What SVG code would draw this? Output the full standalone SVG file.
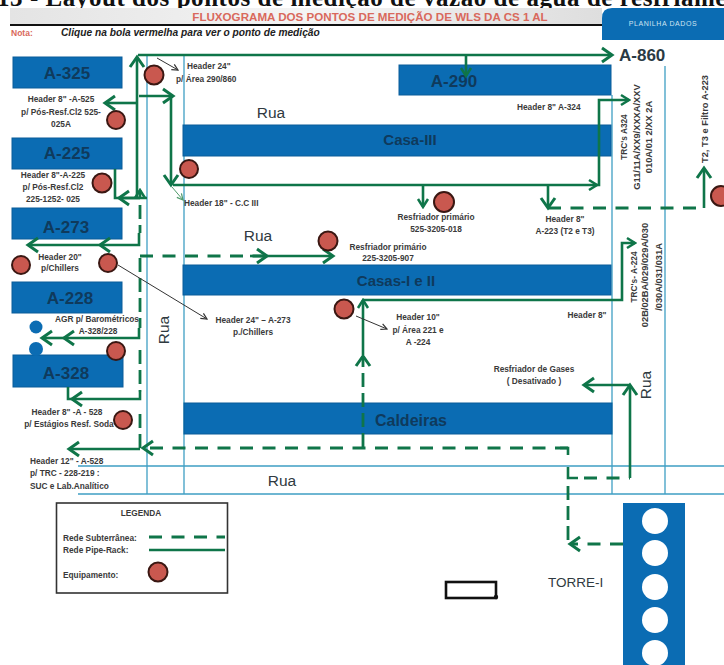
<svg xmlns="http://www.w3.org/2000/svg" width="724" height="665" viewBox="0 0 724 665">
<defs>
<linearGradient id="band" x1="0" y1="0" x2="1" y2="0"><stop offset="0" stop-color="#e4e4e4"/><stop offset="0.5" stop-color="#f4f4f4"/><stop offset="1" stop-color="#dedede"/></linearGradient>
<marker id="ah" markerUnits="userSpaceOnUse" markerWidth="16" markerHeight="18" viewBox="0 0 16 18" refX="13" refY="9" orient="auto"><path d="M3,2 L13,9 L3,16" fill="none" stroke="#0f7549" stroke-width="3"/></marker>
<marker id="as" markerUnits="userSpaceOnUse" markerWidth="12" markerHeight="14" viewBox="0 0 12 14" refX="10" refY="7" orient="auto"><path d="M2,2 L10,7 L2,12" fill="none" stroke="#0f7549" stroke-width="2.5"/></marker>
<marker id="at" markerUnits="userSpaceOnUse" markerWidth="8" markerHeight="8" viewBox="0 0 8 8" refX="7" refY="4" orient="auto"><path d="M1,1 L7,4 L1,7" fill="none" stroke="#333" stroke-width="1.2"/></marker>
<marker id="ag" markerUnits="userSpaceOnUse" markerWidth="8" markerHeight="8" viewBox="0 0 8 8" refX="7" refY="4" orient="auto"><path d="M1,1 L7,4 L1,7" fill="none" stroke="#4f9a6a" stroke-width="1.2"/></marker>
</defs>
<style>
.box{fill:#0b6cb3;stroke:#0a5c99;stroke-width:1}
.bt{font:bold 17px "Liberation Sans",Arial,sans-serif;fill:#0f3a5c;text-anchor:middle}
.lb{font:bold 8.3px "Liberation Sans",Arial,sans-serif;fill:#3a3a3a;text-anchor:middle}
.ll{font:bold 8.3px "Liberation Sans",Arial,sans-serif;fill:#3a3a3a}
.rt{font-size:9.3px}
.rua{font:15.5px "Liberation Sans",Arial,sans-serif;fill:#2f3a40;text-anchor:middle}
.road{stroke:#3f9fc4;stroke-width:1.3;fill:none}
.s{stroke:#0f7549;stroke-width:2.6;fill:none}
.d{stroke:#0f7549;stroke-width:2.8;fill:none;stroke-dasharray:13 9.5}
.v{stroke:#0f7549;stroke-width:2.8;fill:none;stroke-dasharray:14 6}
.th{stroke:#333;stroke-width:1;fill:none}
.ball{fill:#c9584f;stroke:#3a1712;stroke-width:2}
.hole{fill:#fff}
</style>
<rect width="724" height="665" fill="#fff"/>
<g id="header">
<text x="-3" y="6" font-family="Liberation Serif,Times New Roman,serif" font-weight="bold" font-size="25" letter-spacing="0.55" fill="#111" xml:space="preserve">13 - Layout dos pontos de medição de vazão de água de resfriamento</text>
<rect x="10" y="8" width="592" height="16" fill="url(#band)"/>
<text x="370" y="21" font-family="Liberation Sans,Arial,sans-serif" font-weight="bold" font-size="11.6" fill="#d9695c" text-anchor="middle">FLUXOGRAMA DOS PONTOS DE MEDIÇÃO DE WLS DA CS 1 AL</text>
<rect x="10" y="24" width="592" height="2" fill="#111"/>
<text x="11" y="36" font-family="Liberation Sans,Arial,sans-serif" font-weight="bold" font-size="8.5" fill="#d9695c">Nota:</text>
<text x="61" y="36" font-family="Liberation Sans,Arial,sans-serif" font-weight="bold" font-style="italic" font-size="10.2" fill="#222">Clique na bola vermelha para ver o ponto de medição</text>
<g id="planilha"><path d="M724,8 H612 Q602,8 602,18 V40 H724 Z" fill="#0b6cb3"/>
<text x="663" y="26" font-family="Liberation Sans,Arial,sans-serif" font-size="7" fill="#cfe3f1" text-anchor="middle" letter-spacing="0.6">PLANILHA DADOS</text></g>
</g>
<g id="ruas">
<path class="road" d="M147,56 V494 M184,56 V494 M612,95 V494 M665,66 V494 M78,466 H724 M78,494 H724"/>
<text class="rua" x="271" y="118">Rua</text>
<text class="rua" x="258" y="241">Rua</text>
<text class="rua" x="282" y="486">Rua</text>
<text class="rua" transform="translate(169 330) rotate(-90)">Rua</text>
<text class="rua" transform="translate(651 385) rotate(-90)">Rua</text>
</g>
<g id="A-325"><rect class="box" x="13" y="57" width="109" height="31"/><text class="bt" x="67" y="79">A-325</text></g>
<g id="A-225"><rect class="box" x="12" y="138" width="110" height="31"/><text class="bt" x="67" y="159">A-225</text></g>
<g id="A-273"><rect class="box" x="12" y="208" width="110" height="31"/><text class="bt" x="66" y="233">A-273</text></g>
<g id="A-228"><rect class="box" x="12" y="282" width="110" height="31"/><text class="bt" x="70" y="304">A-228</text></g>
<g id="A-328"><rect class="box" x="13" y="355" width="110" height="32"/><text class="bt" x="66" y="379">A-328</text></g>
<g id="A-290"><rect class="box" x="399" y="65" width="212" height="30"/><text class="bt" x="454" y="87">A-290</text></g>
<g id="Casa-III"><rect class="box" x="183" y="125" width="428" height="31"/><text class="bt" x="410" y="145" style="font-size:15px">Casa-III</text></g>
<g id="Casas-I-e-II"><rect class="box" x="183" y="265" width="428" height="30"/><text class="bt" x="396" y="286" style="font-size:15px">Casas-I e II</text></g>
<g id="Caldeiras"><rect class="box" x="184" y="403" width="428" height="31"/><text class="bt" x="411" y="426" style="font-size:16px">Caldeiras</text></g>
<g id="A-860"><text x="619" y="61" font-family="Liberation Sans,Arial,sans-serif" font-weight="bold" font-size="17" fill="#2a3a44">A-860</text></g>
<g id="baro"><circle cx="36" cy="327" r="6.5" fill="#0b6cb3"/><circle cx="36" cy="349" r="7" fill="#0b6cb3"/></g>
<g id="connectors">
<path class="s" d="M138,55 H612" marker-end="url(#ah)"/>
<path class="s" d="M137,198 V57" marker-end="url(#ah)"/>
<path class="s" d="M137,103 H105" marker-end="url(#ah)"/>
<path class="s" d="M139,96 H173" marker-end="url(#ah)"/>
<path class="s" d="M171,96 V185" marker-end="url(#ah)"/>
<path class="s" d="M173,185 H597" marker-end="url(#as)"/>
<path class="s" d="M597,185 H599 V100 H629" marker-end="url(#as)"/>
<path class="s" d="M466,55 V76" marker-end="url(#as)"/>
<path class="s" d="M423,185 V207" marker-end="url(#as)"/>
<path class="s" d="M548,185 V208" marker-end="url(#ah)"/>
<path class="d" d="M548,208 H704"/>
<path class="s" d="M704,208 V168" marker-end="url(#ah)"/>
<path class="s" d="M115,169 V198 H147"/>
<path class="s" d="M140,198 H119" marker-end="url(#ah)"/>
<path class="s" d="M140,198 V190" marker-end="url(#as)"/>
<path class="v" d="M140,205 V233"/>
<path class="s" d="M139,233 V245 H100" marker-end="url(#ah)"/>
<path class="s" d="M100,245 H28" marker-end="url(#ah)"/>
<path class="v" d="M140,258 V328"/>
<path class="d" d="M140,256 H267"/>
<path class="s" d="M250,256 H267" marker-end="url(#ah)"/>
<path class="s" d="M267,256 H333" marker-end="url(#ah)"/>
<path class="s" d="M139,328 V338 H64" marker-end="url(#ah)"/>
<path class="s" d="M64,338 H42" marker-end="url(#ah)"/>
<path class="v" d="M140,350 V392"/>
<path class="s" d="M140,392 V399 H72" marker-end="url(#ah)"/>
<path class="s" d="M68,387 V399 H74"/>
<path class="v" d="M140,414 V448"/>
<path class="s" d="M140,449 H69" marker-end="url(#ah)"/>
<path class="d" d="M568,448 H143" marker-end="url(#ah)"/>
<path class="s" d="M560,448 H568 V455"/>
<path class="s" d="M568,467 V478 H578"/>
<path class="d" d="M584,478 H630"/>
<path class="s" d="M630,478 V385" marker-end="url(#ah)"/>
<path class="s" d="M630,385 H584" marker-end="url(#ah)"/>
<path class="v" d="M568,486 V542"/>
<path class="d" d="M623,544 H570" marker-end="url(#ah)"/>
<path class="v" d="M363,447 V356" marker-end="url(#ah)"/>
<path class="s" d="M363,355 V300" marker-end="url(#as)"/>
<path class="s" d="M363,300 H622 V243 H635" marker-end="url(#as)"/>
<path class="th" d="M157,58 L178,70" marker-end="url(#at)"/>
<path d="M172,187 L183,200" stroke="#4f9a6a" stroke-width="1" fill="none" marker-end="url(#ag)"/>
<path class="th" d="M118,265 L207,319" marker-end="url(#at)"/>
<path class="th" d="M356,316 L387,329" marker-end="url(#at)"/>
</g>
<g id="equipamentos">
<circle class="ball" cx="154" cy="75" r="9.5"/><circle class="ball" cx="116" cy="120" r="9"/><circle class="ball" cx="189" cy="169" r="9"/><circle class="ball" cx="102" cy="183" r="9.5"/><circle class="ball" cx="21" cy="265" r="9"/><circle class="ball" cx="108" cy="263" r="9"/><circle class="ball" cx="116" cy="351" r="9"/><circle class="ball" cx="123" cy="420" r="9"/><circle class="ball" cx="328" cy="241" r="9.5"/><circle class="ball" cx="344" cy="309" r="9.5"/><circle class="ball" cx="444" cy="202" r="10"/><circle class="ball" cx="721" cy="196" r="10"/>
</g>
<g id="labels">
<text class="ll" x="187" y="69">Header 24"</text><text class="ll" x="176" y="82">p/ Área 290/860</text>
<text class="lb" x="61" y="102">Header 8" -A-525</text><text class="lb" x="61" y="115">p/ Pós-Resf.Cl2 525-</text><text class="lb" x="61" y="127">025A</text>
<text class="lb" x="53" y="178">Header 8"-A-225</text><text class="lb" x="53" y="190">p/ Pós-Resf.Cl2</text><text class="lb" x="53" y="202">225-1252- 025</text>
<text class="ll" x="184" y="206">Header 18" - C.C III</text>
<text class="ll" x="517" y="110">Header 8" A-324</text>
<text class="lb" x="436" y="220">Resfriador primário</text><text class="lb" x="436" y="232">525-3205-018</text>
<text class="lb" x="565" y="222">Header 8"</text><text class="lb" x="565" y="234">A-223 (T2 e T3)</text>
<text class="lb" x="388" y="250">Resfriador primário</text><text class="lb" x="388" y="261">225-3205-907</text>
<text class="lb" x="60" y="260">Header 20"</text><text class="lb" x="60" y="271">p/Chillers</text>
<text class="lb" x="253" y="323">Header 24" – A-273</text><text class="lb" x="253" y="335">p./Chillers</text>
<text class="lb" x="97" y="322">AGR p/ Barométricos</text><text class="lb" x="98" y="334">A-328/228</text>
<text class="lb" x="418" y="320">Header 10"</text><text class="lb" x="418" y="333">p/ Área 221 e</text><text class="lb" x="418" y="345">A -224</text>
<text class="lb" x="587" y="318">Header 8"</text>
<text class="lb" x="534" y="372">Resfriador de Gases</text><text class="lb" x="534" y="384">( Desativado )</text>
<text class="lb" x="67" y="415">Header 8" -A - 528</text><text class="lb" x="69" y="427">p/ Estágios Resf. Soda</text>
<text class="ll" x="30" y="464">Header 12" - A-528</text><text class="ll" x="30" y="476">p/ TRC -  228-219 :</text><text class="ll" x="30" y="489">SUC e Lab.Analítico</text>
<text class="lb" transform="translate(627 137) rotate(-90)">TRC's A324</text>
<text class="lb rt" transform="translate(640 137) rotate(-90)">G11/11A/XX9/XXXA/XXV</text>
<text class="lb rt" transform="translate(652 137) rotate(-90)">010A/01 2/XX 2A</text>
<text class="lb" transform="translate(637 277) rotate(-90)">TRC's- A-224</text>
<text class="lb rt" transform="translate(648 275) rotate(-90)">02B/02BA/029/029A/030</text>
<text class="lb rt" transform="translate(662 277) rotate(-90)">/030A/031/031A</text>
<text class="lb rt" transform="translate(708 119) rotate(-90)">T2, T3 e Filtro A-223</text>
</g>
<g id="legenda">
<rect x="56.500" y="503" width="171" height="90" fill="#fff" stroke="#333" stroke-width="1.6"/>
<text class="lb" x="141" y="516">LEGENDA</text>
<text class="ll" x="63" y="541">Rede Subterrânea:</text>
<text class="ll" x="63" y="553">Rede Pipe-Rack:</text>
<text class="ll" x="63" y="578">Equipamento:</text>
<path d="M149,537 H225" stroke="#0f7549" stroke-width="2.800" stroke-dasharray="13 9.5"/>
<path d="M149,550 H225" stroke="#0f7549" stroke-width="2.600"/>
<circle class="ball" cx="158" cy="572" r="9.500"/>
</g>
<g id="rect-preto"><rect x="446" y="582" width="50" height="16" fill="#fff" stroke="#111" stroke-width="2.600"/><circle cx="496" cy="597" r="2.200" fill="#111"/></g>
<g id="TORRE-I">
<text x="548" y="587" font-family="Liberation Sans,Arial,sans-serif" font-size="13.500" fill="#2f3a40">TORRE-I</text>
<rect x="623" y="503" width="62" height="162" fill="#0b6cb3"/>
<circle class="hole" cx="655" cy="521" r="13"/><circle class="hole" cx="655" cy="553" r="13"/><circle class="hole" cx="655" cy="587" r="13"/><circle class="hole" cx="655" cy="620" r="13"/><circle class="hole" cx="655" cy="653" r="13"/>
</g>
</svg>
